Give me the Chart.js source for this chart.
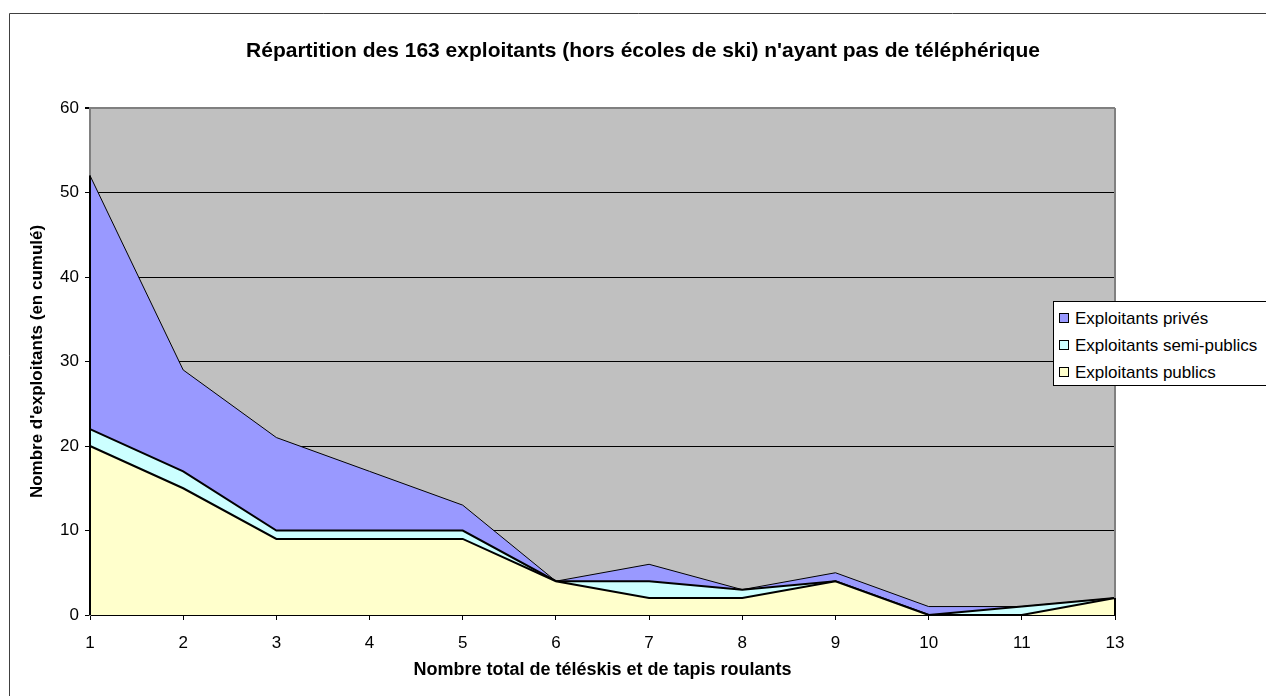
<!DOCTYPE html>
<html>
<head>
<meta charset="utf-8">
<script src="https://cdn.jsdelivr.net/npm/chart.js@4.4.1/dist/chart.umd.min.js"></script>
<style>
  body { margin: 0; background: #fff; overflow: hidden; }
  #wrap { position: relative; width: 1266px; height: 696px; }
  #legend {
    position: absolute; left: 1053px; top: 301px; width: 240px; height: 85px;
    border: 1px solid #000; background: #fff; box-sizing: border-box;
    font: 17px "Liberation Sans", Arial, sans-serif; color: #000;
  }
  #legend div { position: absolute; left: 5px; white-space: nowrap; line-height: 20px; }
  #legend span.box {
    display: inline-block; width: 8px; height: 8px; border: 1px solid #000;
    margin-right: 6px; vertical-align: 1px;
  }
</style>
</head>
<body>
<div id="wrap">
  <canvas id="chart" width="1266" height="696"></canvas>
  <div id="legend"></div>
</div>
<script>
const categories = ["1", "2", "3", "4", "5", "6", "7", "8", "9", "10", "11", "13"];
const publics = [20, 15, 9, 9, 9, 4, 2, 2, 4, 0, 0, 2];
const semiPublics = [2, 2, 1, 1, 1, 0, 2, 1, 0, 0, 1, 0];
const prives = [30, 12, 11, 7, 3, 0, 2, 0, 1, 1, 0, 0];

const chartTitle = "Répartition des 163 exploitants (hors écoles de ski) n'ayant pas de téléphérique";
const font = '"Liberation Sans", Arial, sans-serif';

// grey plot background, outer frame, title, area outlines at both ends
const background = {
    id: "background",
    beforeDraw(chart) {
        const { ctx, chartArea } = chart;
        ctx.save();
        ctx.fillStyle = "#fff";
        ctx.fillRect(0, 0, chart.width, chart.height);
        ctx.strokeStyle = "#404040";
        ctx.lineWidth = 1;
        ctx.beginPath();
        ctx.moveTo(9.5, 700);
        ctx.lineTo(9.5, 13.5);
        ctx.lineTo(1270, 13.5);
        ctx.stroke();
        ctx.fillStyle = "#C0C0C0";
        ctx.fillRect(chartArea.left, chartArea.top, chartArea.width, chartArea.height);
        ctx.fillStyle = "#000";
        ctx.font = "bold 21px " + font;
        ctx.textAlign = "center";
        ctx.textBaseline = "middle";
        ctx.fillText(chartTitle, 643, 51);
        ctx.restore();
    },
    afterDatasetsDraw(chart) {
        const { ctx, chartArea, scales } = chart;
        const last = categories.length - 1;
        const total = (i) => publics[i] + semiPublics[i] + prives[i];
        ctx.save();
        ctx.strokeStyle = "#808080";
        ctx.lineWidth = 2;
        ctx.beginPath();
        ctx.moveTo(chartArea.right, chartArea.bottom);
        ctx.lineTo(chartArea.right, chartArea.top);
        ctx.stroke();
        ctx.strokeStyle = "#000";
        ctx.beginPath();
        ctx.moveTo(chartArea.left, chartArea.bottom);
        ctx.lineTo(chartArea.left, scales.y.getPixelForValue(total(0)));
        ctx.moveTo(chartArea.right, chartArea.bottom);
        ctx.lineTo(chartArea.right, scales.y.getPixelForValue(total(last)));
        ctx.stroke();
        ctx.restore();
    },
};

const ctx = document.getElementById("chart").getContext("2d");

const chart = new Chart(ctx, {
    type: "line",
    data: {
        labels: categories,
        datasets: [
            {
                label: "Exploitants publics",
                data: publics,
                fill: "origin",
                backgroundColor: "#FFFFCC",
                borderColor: "#000",
                borderWidth: 2,
            },
            {
                label: "Exploitants semi-publics",
                data: semiPublics,
                fill: "-1",
                backgroundColor: "#CCFFFF",
                borderColor: "#000",
                borderWidth: 2,
            },
            {
                label: "Exploitants privés",
                data: prives,
                fill: "-1",
                backgroundColor: "#9999FF",
                borderColor: "#000",
                borderWidth: 1,
            },
        ],
    },
    options: {
        responsive: false,
        animation: false,
        layout: { padding: { left: 0, top: 108, right: 151, bottom: 0 } },
        elements: {
            point: { radius: 0, hoverRadius: 0 },
            line: { tension: 0 },
        },
        plugins: {
            legend: { display: false },
            title: { display: false },
            tooltip: { enabled: false },
        },
        scales: {
            x: {
                offset: false,
                grid: {
                    drawOnChartArea: false,
                    drawTicks: true,
                    tickLength: 5,
                    color: "#000",
                },
                border: { color: "#000", width: 2 },
                ticks: { color: "#000", font: { family: font, size: 17 }, padding: 13, maxRotation: 0 },
                title: {
                    display: true,
                    text: "Nombre total de téléskis et de tapis roulants",
                    color: "#000",
                    font: { family: font, size: 18, weight: "bold" },
                    padding: { top: 0, bottom: 15 },
                },
                afterFit(scale) { scale.height = 81; },
            },
            y: {
                stacked: true,
                min: 0,
                max: 60,
                ticks: { stepSize: 10, color: "#000", font: { family: font, size: 17 }, padding: 6 },
                grid: {
                    color: (c) => (c.tick && c.tick.value === 60 ? "#808080" : "#000"),
                    lineWidth: (c) => (c.tick && c.tick.value === 60 ? 2 : 1),
                    tickColor: "#000",
                    tickLength: 5,
                },
                border: { color: "#808080", width: 2 },
                title: {
                    display: true,
                    text: "Nombre d'exploitants (en cumulé)",
                    color: "#000",
                    font: { family: font, size: 17, weight: "bold" },
                    padding: { top: 27, bottom: 0 },
                },
                afterFit(scale) { scale.width = 90; },
            },
        },
    },
    plugins: [background],
});

// legend in the same order as Excel (top series first)
const legendEl = document.getElementById("legend");
const rowTops = [7, 34, 61];
chart.data.datasets.slice().reverse().forEach((ds, i) => {
    const row = document.createElement("div");
    row.style.top = rowTops[i] + "px";
    const box = document.createElement("span");
    box.className = "box";
    box.style.background = ds.backgroundColor;
    row.appendChild(box);
    row.appendChild(document.createTextNode(ds.label));
    legendEl.appendChild(row);
});
</script>
</body>
</html>
